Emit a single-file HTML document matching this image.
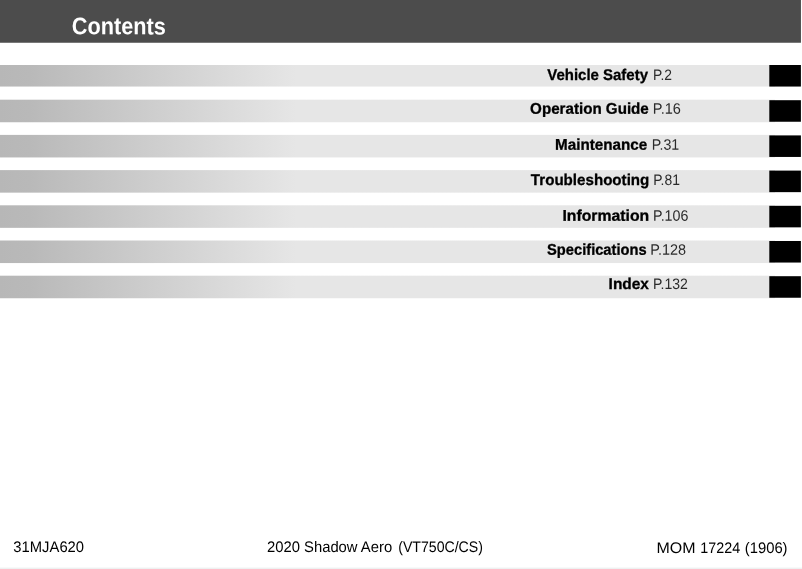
<!DOCTYPE html>
<html><head><meta charset="utf-8">
<title>Contents</title>
<style>
html,body{margin:0;padding:0;background:#fff;}
body{width:802px;height:569px;position:relative;overflow:hidden;font-family:"Liberation Sans",sans-serif;color:#000;text-rendering:geometricPrecision;}
svg.bg{position:absolute;left:0;top:0;}
.x{position:absolute;white-space:nowrap;line-height:1;transform-origin:0 0;}
.hd{font-weight:bold;color:#fff;}
.t{font-weight:bold;color:#000;-webkit-text-stroke:0.3px #000;}
.p{color:#2a2a2a;}
.f{color:#000;}
</style></head><body>
<svg class="bg" width="802" height="569" viewBox="0 0 802 569">
<defs><linearGradient id="g" gradientUnits="userSpaceOnUse" x1="0" y1="0" x2="296" y2="0"><stop offset="0" stop-color="#b7b7b7"/><stop offset="0.1" stop-color="#b9b9b9"/><stop offset="1" stop-color="#e6e6e6"/></linearGradient></defs>
<rect x="0" y="0" width="800.95" height="42.75" fill="#4c4c4c"/>
<rect x="0" y="65.00" width="775" height="21.55" fill="url(#g)"/><rect x="769.3" y="65.00" width="31.6" height="21.55" fill="#000"/>
<rect x="0" y="99.70" width="775" height="22.55" fill="url(#g)"/><rect x="769.3" y="100.20" width="31.6" height="21.55" fill="#000"/>
<rect x="0" y="134.90" width="775" height="22.55" fill="url(#g)"/><rect x="769.3" y="135.40" width="31.6" height="21.55" fill="#000"/>
<rect x="0" y="170.10" width="775" height="22.55" fill="url(#g)"/><rect x="769.3" y="170.60" width="31.6" height="21.55" fill="#000"/>
<rect x="0" y="205.30" width="775" height="22.55" fill="url(#g)"/><rect x="769.3" y="205.80" width="31.6" height="21.55" fill="#000"/>
<rect x="0" y="240.50" width="775" height="22.55" fill="url(#g)"/><rect x="769.3" y="241.00" width="31.6" height="21.55" fill="#000"/>
<rect x="0" y="275.70" width="775" height="22.55" fill="url(#g)"/><rect x="769.3" y="276.20" width="31.6" height="21.55" fill="#000"/>
<rect x="0" y="567.6" width="802" height="1.4" fill="#eef1f1"/>
</svg>
<div class="x hd" id="h0" style="left:0;top:0;font-size:24px;transform:translate(71.80px,15.33px) rotate(0.04deg) scaleX(0.9043);">Contents</div>
<div class="x t" id="t0" style="left:0;top:0;font-size:15.5px;transform:translate(547.35px,67.93px) rotate(0.04deg) scaleX(0.9652);">Vehicle Safety</div>
<div class="x t" id="t1" style="left:0;top:0;font-size:15.5px;transform:translate(530.12px,101.72px) rotate(0.04deg) scaleX(0.9774);">Operation Guide</div>
<div class="x t" id="t2" style="left:0;top:0;font-size:15.5px;transform:translate(555.05px,137.63px) rotate(0.04deg) scaleX(0.9814);">Maintenance</div>
<div class="x t" id="t3" style="left:0;top:0;font-size:15.5px;transform:translate(530.85px,172.92px) rotate(0.04deg) scaleX(0.9760);">Troubleshooting</div>
<div class="x t" id="t4" style="left:0;top:0;font-size:15.5px;transform:translate(562.47px,208.74px) rotate(0.04deg) scaleX(1.0177);">Information</div>
<div class="x t" id="t5" style="left:0;top:0;font-size:15.5px;transform:translate(547.08px,242.63px) rotate(0.04deg) scaleX(0.9471);">Specifications</div>
<div class="x t" id="t6" style="left:0;top:0;font-size:15.5px;transform:translate(608.60px,276.97px) rotate(0.04deg) scaleX(0.9964);">Index</div>
<div class="x p" id="p0" style="left:0;top:0;font-size:15.2px;transform:translate(653.08px,67.98px) rotate(0.04deg) scaleX(0.9122);">P.2</div>
<div class="x p" id="p1" style="left:0;top:0;font-size:15.2px;transform:translate(652.88px,101.78px) rotate(0.04deg) scaleX(0.9591);">P.16</div>
<div class="x p" id="p2" style="left:0;top:0;font-size:15.2px;transform:translate(651.80px,137.68px) rotate(0.04deg) scaleX(0.9371);">P.31</div>
<div class="x p" id="p3" style="left:0;top:0;font-size:15.2px;transform:translate(653.15px,172.98px) rotate(0.04deg) scaleX(0.9157);">P.81</div>
<div class="x p" id="p4" style="left:0;top:0;font-size:15.2px;transform:translate(653.00px,208.77px) rotate(0.04deg) scaleX(0.9381);">P.106</div>
<div class="x p" id="p5" style="left:0;top:0;font-size:15.2px;transform:translate(650.22px,242.67px) rotate(0.04deg) scaleX(0.9525);">P.128</div>
<div class="x p" id="p6" style="left:0;top:0;font-size:15.2px;transform:translate(653.00px,276.97px) rotate(0.04deg) scaleX(0.9255);">P.132</div>
<div class="x f" id="f0" style="left:0;top:0;font-size:15.3px;transform:translate(13.35px,539.95px) rotate(0.04deg) scaleX(0.9671);">31MJA620</div>
<div class="x f" id="f1" style="left:0;top:0;font-size:15.3px;transform:translate(266.98px,539.91px) rotate(0.04deg) scaleX(0.9681);">2020 Shadow Aero</div>
<div class="x f" id="f1b" style="left:0;top:0;font-size:15.3px;transform:translate(398.25px,539.94px) rotate(0.04deg) scaleX(0.9222);">(VT750C/CS)</div>
<div class="x f" id="f2" style="left:0;top:0;font-size:15.3px;transform:translate(656.50px,540.98px) rotate(0.04deg) scaleX(1.0444);">MOM</div>
<div class="x f" id="f2b" style="left:0;top:0;font-size:15.3px;transform:translate(700.38px,540.97px) rotate(0.04deg) scaleX(0.9335);">17224</div>
<div class="x f" id="f2c" style="left:0;top:0;font-size:15.3px;transform:translate(744.75px,540.97px) rotate(0.04deg) scaleX(0.9680);">(1906)</div>
</body></html>
